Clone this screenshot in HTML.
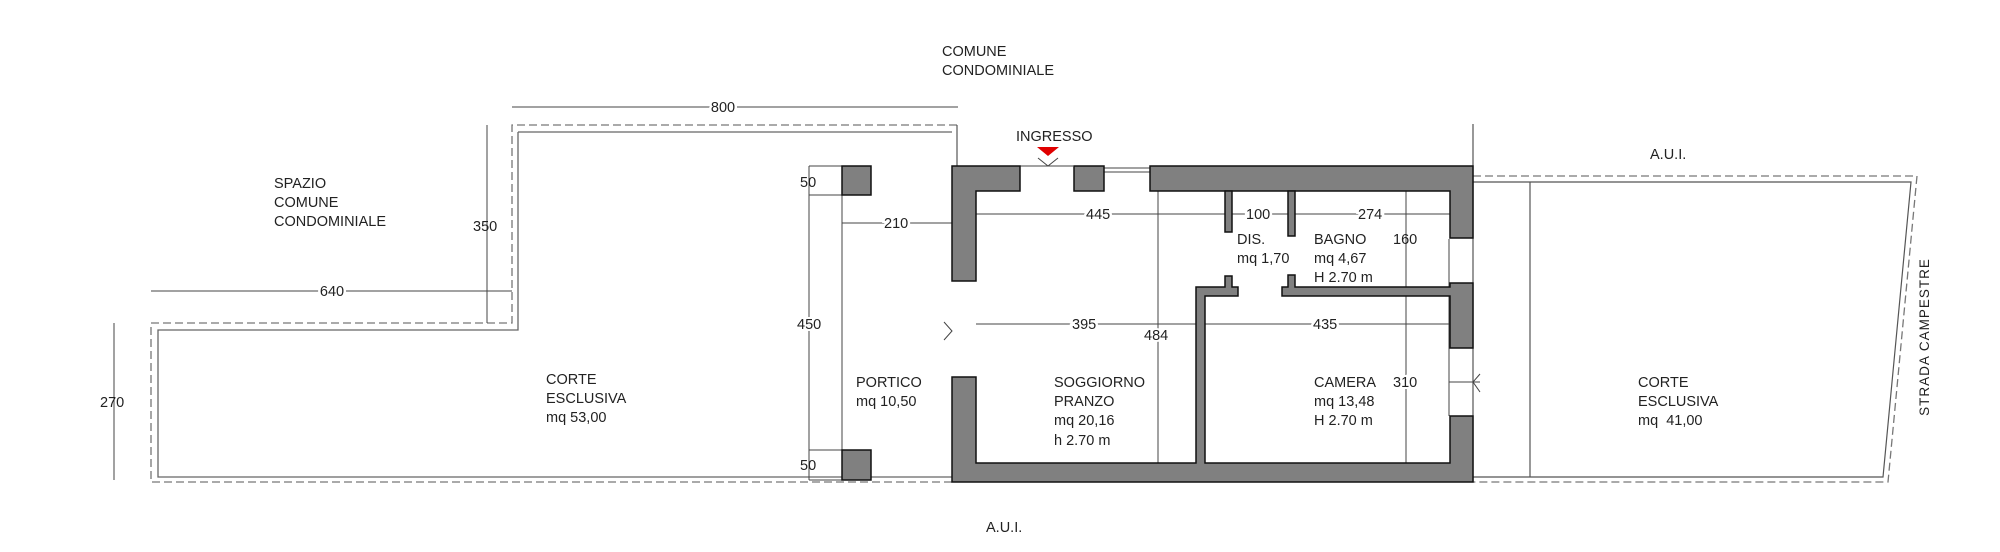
<!DOCTYPE html>
<html><head><meta charset="utf-8"><style>
html,body{margin:0;padding:0;background:#fff;}
svg{display:block}
text{font-family:"Liberation Sans",sans-serif;font-size:14.5px;fill:#222}
</style></head><body>
<svg width="2000" height="552" viewBox="0 0 2000 552" xmlns="http://www.w3.org/2000/svg">
<!-- left courtyard outline -->
<g fill="none" stroke="#666" stroke-width="1.3">
<polyline points="518,132 952,132"/>
<polyline points="518,132 518,330 158,330 158,477 952,477"/>
</g>
<g fill="none" stroke="#777" stroke-width="1.3" stroke-dasharray="8,4">
<polyline points="957,125 512,125 512,323 151,323 151,482 952,482"/>
<polyline points="1473,176 1917,176 1888,482 1473,482"/>
</g>
<!-- right courtyard -->
<g fill="none" stroke="#555" stroke-width="1.2">
<polyline points="1473,182 1911,182 1883,477 1473,477"/>
<line x1="1530" y1="182" x2="1530" y2="477"/>
<line x1="1473" y1="124" x2="1473" y2="482"/>
<line x1="957" y1="125" x2="957" y2="166"/>
</g>
<!-- dimension lines -->
<g stroke="#444" stroke-width="1" fill="none">
<line x1="512" y1="107" x2="958" y2="107"/>
<line x1="151" y1="291" x2="512" y2="291"/>
<line x1="487" y1="125" x2="487" y2="323"/>
<line x1="114" y1="323" x2="114" y2="480"/>
<line x1="809" y1="166" x2="809" y2="480"/>
<line x1="809" y1="166" x2="842" y2="166"/>
<line x1="809" y1="195" x2="842" y2="195"/>
<line x1="809" y1="450" x2="842" y2="450"/>
<line x1="809" y1="480" x2="842" y2="480"/>
<line x1="842" y1="195" x2="842" y2="450"/>
<line x1="842" y1="223" x2="952" y2="223"/>
<line x1="976" y1="214" x2="1450" y2="214"/>
<line x1="976" y1="324" x2="1450" y2="324"/>
<line x1="1158" y1="191" x2="1158" y2="466"/>
<line x1="1406" y1="191" x2="1406" y2="466"/>
<line x1="1449" y1="239" x2="1449" y2="416"/>
<line x1="1449" y1="382" x2="1480" y2="382"/>
<polyline points="1480,374 1473,382 1480,392"/>
<polyline points="944,322 952,331 944,340"/>
<line x1="1104" y1="168" x2="1150" y2="168"/>
<line x1="1104" y1="172" x2="1150" y2="172"/>
<line x1="1019" y1="166" x2="1073" y2="166"/>
<polyline points="1038,158 1048,166 1058,158"/>
</g>
<!-- walls -->
<g fill="#808080" stroke="#111" stroke-width="1.5">
<rect x="842" y="166" width="29" height="29"/>
<rect x="842" y="450" width="29" height="30"/>
<polygon points="952,166 1020,166 1020,191 976,191 976,281 952,281"/>
<rect x="1074" y="166" width="30" height="25"/>
<polygon points="1150,166 1473,166 1473,238 1450,238 1450,191 1150,191"/>
<rect x="1225" y="191" width="7" height="41"/>
<rect x="1288" y="191" width="7" height="45"/>
<polygon points="1225,276 1232,276 1232,287 1238,287 1238,296 1205,296 1205,463 1450,463 1450,416 1473,416 1473,482 952,482 952,377 976,377 976,463 1196,463 1196,287 1225,287"/>
<polygon points="1288,275 1295,275 1295,287 1450,287 1450,283 1473,283 1473,348 1450,348 1450,296 1282,296 1282,287 1288,287"/>
</g>
<polygon points="1037,147 1059,147 1048,156" fill="#e00000"/>
<!-- texts -->
<text x="942" y="56">COMUNE</text>
<text x="942" y="75">CONDOMINIALE</text>
<text x="1016" y="141">INGRESSO</text>
<text x="1650" y="159">A.U.I.</text>
<text x="986" y="532">A.U.I.</text>
<text x="723" y="112" text-anchor="middle" style="paint-order:stroke" stroke="#fff" stroke-width="5">800</text>
<text x="332" y="296" text-anchor="middle" style="paint-order:stroke" stroke="#fff" stroke-width="5">640</text>
<text x="473" y="231">350</text>
<text x="100" y="407">270</text>
<text x="274" y="188">SPAZIO</text>
<text x="274" y="207">COMUNE</text>
<text x="274" y="226">CONDOMINIALE</text>
<text x="546" y="384">CORTE</text>
<text x="546" y="403">ESCLUSIVA</text>
<text x="546" y="422">mq 53,00</text>
<text x="800" y="187">50</text>
<text x="797" y="329" style="paint-order:stroke" stroke="#fff" stroke-width="4">450</text>
<text x="800" y="470">50</text>
<text x="884" y="228" style="paint-order:stroke" stroke="#fff" stroke-width="5">210</text>
<text x="856" y="387">PORTICO</text>
<text x="856" y="406">mq 10,50</text>
<text x="1086" y="219" style="paint-order:stroke" stroke="#fff" stroke-width="5">445</text>
<text x="1246" y="219" style="paint-order:stroke" stroke="#fff" stroke-width="5">100</text>
<text x="1358" y="219" style="paint-order:stroke" stroke="#fff" stroke-width="5">274</text>
<text x="1393" y="244">160</text>
<text x="1237" y="244">DIS.</text>
<text x="1237" y="263">mq 1,70</text>
<text x="1314" y="244">BAGNO</text>
<text x="1314" y="263">mq 4,67</text>
<text x="1314" y="282">H 2.70 m</text>
<text x="1072" y="329" style="paint-order:stroke" stroke="#fff" stroke-width="5">395</text>
<text x="1313" y="329" style="paint-order:stroke" stroke="#fff" stroke-width="5">435</text>
<text x="1144" y="340" style="paint-order:stroke" stroke="#fff" stroke-width="4">484</text>
<text x="1054" y="387">SOGGIORNO</text>
<text x="1054" y="406">PRANZO</text>
<text x="1054" y="425">mq 20,16</text>
<text x="1054" y="445">h 2.70 m</text>
<text x="1314" y="387">CAMERA</text>
<text x="1393" y="387" style="paint-order:stroke" stroke="#fff" stroke-width="4">310</text>
<text x="1314" y="406">mq 13,48</text>
<text x="1314" y="425">H 2.70 m</text>
<text x="1638" y="387">CORTE</text>
<text x="1638" y="406">ESCLUSIVA</text>
<text x="1638" y="425">mq&#160;&#160;41,00</text>
<text x="0" y="0" transform="translate(1929,337) rotate(-90)" text-anchor="middle" style="font-size:13.5px;letter-spacing:1px">STRADA CAMPESTRE</text>
</svg>
</body></html>
